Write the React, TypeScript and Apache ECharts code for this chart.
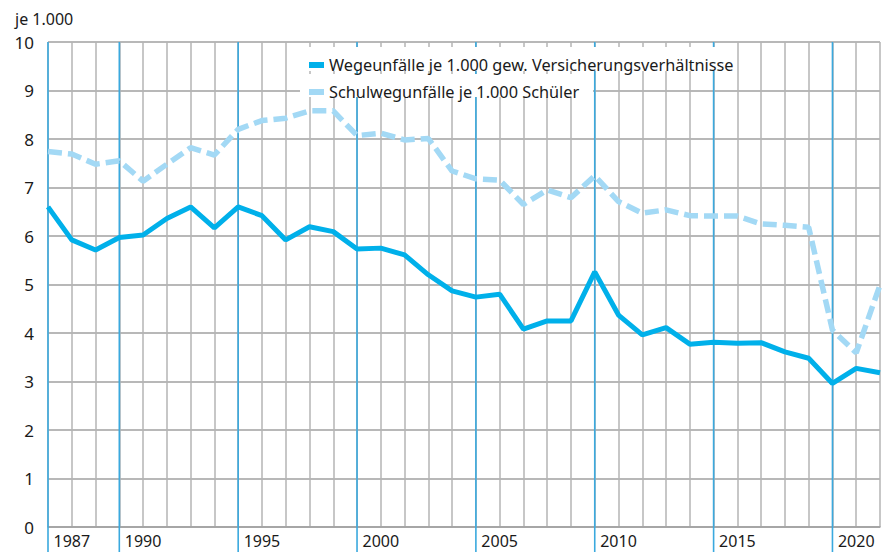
import React, { useEffect, useRef } from "react";
import * as echarts from "echarts";

const years = [1986, 1987, 1988, 1989, 1990, 1991, 1992, 1993, 1994, 1995, 1996, 1997, 1998, 1999, 2000, 2001, 2002, 2003, 2004, 2005, 2006, 2007, 2008, 2009, 2010, 2011, 2012, 2013, 2014, 2015, 2016, 2017, 2018, 2019, 2020, 2021];

const wegeunfaelle = [6.6, 5.92, 5.71, 5.97, 6.02, 6.36, 6.6, 6.17, 6.6, 6.42, 5.92, 6.19, 6.09, 5.73, 5.75, 5.61, 5.2, 4.87, 4.74, 4.8, 4.08, 4.25, 4.25, 5.26, 4.37, 3.96, 4.11, 3.77, 3.81, 3.79, 3.8, 3.61, 3.48, 2.96, 3.27, 3.18];

const schulweg = [7.74, 7.69, 7.48, 7.55, 7.13, 7.48, 7.82, 7.67, 8.2, 8.38, 8.43, 8.58, 8.58, 8.07, 8.12, 7.98, 8.01, 7.34, 7.18, 7.15, 6.65, 6.95, 6.79, 7.24, 6.71, 6.47, 6.54, 6.42, 6.41, 6.41, 6.25, 6.22, 6.18, 4.06, 3.59, 4.99];

const labelYears = [1987, 1990, 1995, 2000, 2005, 2010, 2015, 2020];
const blueLineYears = [1986, 1989, 1994, 1999, 2004, 2009, 2014, 2019];

const seriesNames = [
  "Wegeunfälle je 1.000 gew. Versicherungsverhältnisse",
  "Schulwegunfälle je 1.000 Schüler",
];
const unitLabel = "je 1.000";

const FONT = "'Noto Sans', 'Open Sans', sans-serif";

export default function App() {
  const ref = useRef<HTMLDivElement>(null);
  useEffect(() => {
    if (!ref.current) return;
    const chart = echarts.init(ref.current, undefined, { renderer: "svg" });
    chart.setOption({
      animation: false,
      backgroundColor: "#ffffff",
      title: {
        text: unitLabel,
        left: 15,
        top: 10,
        padding: 0,
        textStyle: { fontFamily: FONT, fontSize: 16, fontWeight: "normal", color: "#1a1a1a", lineHeight: 18 },
      },
      grid: { left: 48, right: 7, top: 42, bottom: 25, containLabel: false },
      legend: {
        orient: "vertical",
        left: 304,
        top: 49,
        itemGap: 5,
        itemWidth: 15,
        itemHeight: 6,
        itemTextGap: 3,
        icon: "rect",
        textStyle: { fontFamily: FONT, fontSize: 16.3, color: "#1a1a1a", lineHeight: 22 },
        data: seriesNames,
        z: 10,
      },
      xAxis: {
        type: "value",
        min: 1986,
        max: 2021,
        interval: 1,
        axisLine: { show: true, lineStyle: { color: "#a0a0a0", width: 1.5 } },
        axisTick: { show: false },
        splitLine: { show: true, lineStyle: { color: "#b4b4b4", width: 1.5 } },
        axisLabel: {
          fontFamily: FONT,
          fontSize: 16,
          lineHeight: 16,
          color: "#1a1a1a",
          margin: 6,
          formatter: (v: number) => (labelYears.includes(v) ? String(v) : ""),
        },
      },
      yAxis: {
        type: "value",
        min: 0,
        max: 10,
        interval: 1,
        axisLine: { show: false },
        axisTick: { show: false },
        splitLine: { show: true, lineStyle: { color: "#a0a0a0", width: 1.5 } },
        axisLabel: { fontFamily: FONT, fontSize: 17, lineHeight: 17, color: "#1a1a1a", margin: 14 },
      },
      series: [
        {
          name: seriesNames[0],
          type: "line",
          data: years.map((y, i) => [y, wegeunfaelle[i]]),
          symbol: "none",
          itemStyle: { color: "#00b0ea" },
          lineStyle: { color: "#00b0ea", width: 5 },
          z: 5,
        },
        {
          name: seriesNames[1],
          type: "line",
          data: years.map((y, i) => [y, schulweg[i]]),
          symbol: "none",
          itemStyle: { color: "#a3d9f5" },
          lineStyle: { color: "#a3d9f5", width: 5.5, type: [14, 6] },
          z: 4,
        },
      ],
    });

    const topY = chart.convertToPixel({ yAxisIndex: 0 }, 10) as number;
    const h = chart.getHeight();
    const lines = blueLineYears.map((yr) => {
      const x = chart.convertToPixel({ xAxisIndex: 0 }, yr) as number;
      return {
        type: "line",
        z: 1,
        shape: { x1: x, y1: topY, x2: x, y2: h },
        style: { stroke: "#3aa9de", lineWidth: 1.6 },
      };
    });
    chart.setOption({
      graphic: [
        ...lines,
        { type: "rect", z: 3, shape: { x: 300, y: 47, width: 437, height: 24 }, style: { fill: "#ffffff" } },
        { type: "rect", z: 3, shape: { x: 300, y: 74, width: 293, height: 23 }, style: { fill: "#ffffff" } },
      ],
    });

    return () => chart.dispose();
  }, []);
  return <div ref={ref} style={{ position: "fixed", left: 0, top: 0, width: 887, height: 552 }} />;
}
